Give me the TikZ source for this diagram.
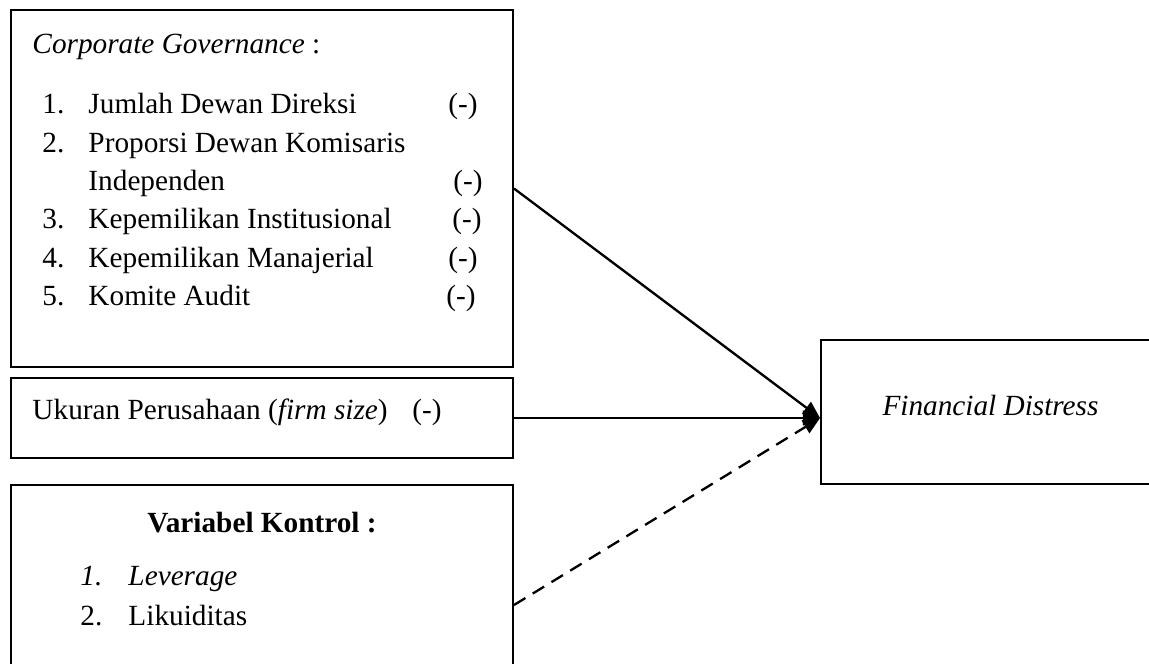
\documentclass[tikz,border=0pt]{standalone}
\usepackage{fontspec}
\setmainfont{Liberation Serif}
\usepackage{tikz}
\usetikzlibrary{fit}
\usetikzlibrary{arrows.meta}

\begin{document}
\begin{tikzpicture}[
			     x=0.41pt, y=-0.41pt,
			     every node/.style={font=\fontsize{12}{14}\selectfont},
			     box/.style={draw, line width=0.8pt, inner sep=0pt},
			     txt/.style={anchor=base west, inner sep=0pt},
			     normal line/.style={line width=0.95pt, -{Triangle[length=7pt,width=6pt]}},
			     dashed line/.style={normal line, dash pattern=on 5.5pt off 3.5pt}
			     ]
\clip (0,0) rectangle (1149,663);
% boxes
\node[box, fit={(11,10) (513,367)}] (cg) {};
\node[box, fit={(11,378) (513,458)}] (size) {};
\node[box, fit={(11,485) (513,725)}] (ctrl) {};
\node[box, fit={(821,340) (1170,484)}] (fd) {};
\coordinate (tip) at (fd.west |- size.east);
%
\node[txt] (cgtitle) at (32,53) {\textit{Corporate Governance} :};
\node[txt] (n1) at (42,113) {1.};
\node[txt] (t1) at (88,113) {Jumlah Dewan Direksi};
\node[txt] (s1) at (448,113) {(-)};
\node[txt] (n2) at (42,152) {2.};
\node[txt] (t2) at (88,152) {Proporsi Dewan Komisaris};
\node[txt] (t2b) at (88,190) {Independen};
\node[txt] (s2) at (453,190) {(-)};
\node[txt] (n3) at (42,228) {3.};
\node[txt] (t3) at (88,228) {Kepemilikan Institusional};
\node[txt] (s3) at (452,228) {(-)};
\node[txt] (n4) at (42,267) {4.};
\node[txt] (t4) at (88,267) {Kepemilikan Manajerial};
\node[txt] (s4) at (448,267) {(-)};
\node[txt] (n5) at (42,305) {5.};
\node[txt] (t5) at (88,305) {Komite Audit};
\node[txt] (s5) at (446,305) {(-)};
%
\node[txt] (sizetext) at (32,419) {Ukuran Perusahaan (\textit{firm size})};
\node[txt] (sizesign) at (412,419) {(-)};
%
\node[anchor=base, inner sep=0pt] (ctrltitle) at (262,532) {\textbf{Variabel Kontrol :}};
\node[txt] (c1) at (80,585) {\textit{1.}};
\node[txt] (lev) at (128,585) {\textit{Leverage}};
\node[txt] (c2) at (80,625) {2.};
\node[txt] (liq) at (128,625) {Likuiditas};
%
\node[txt] (fdtext) at (882,415) {\textit{Financial Distress}};
%
\draw[normal line] (cg.east) -- (tip);
\draw[normal line] (size.east) -- (tip);
\draw[dashed line] (ctrl.east) -- (tip);
\end{tikzpicture}
\end{document}
